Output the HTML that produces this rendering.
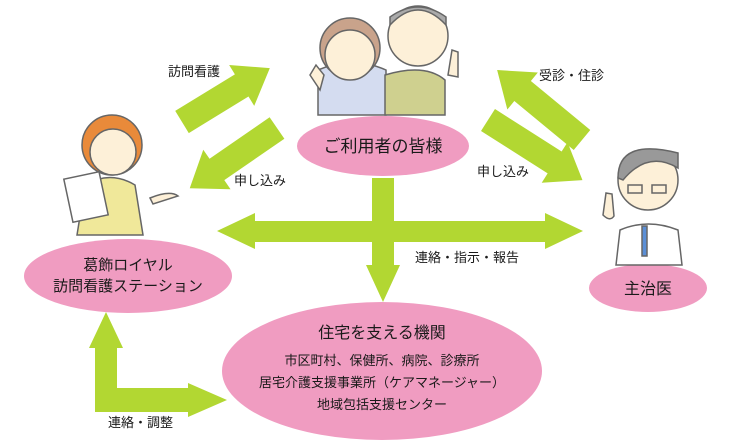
<!DOCTYPE html>
<html><head><meta charset="utf-8"><style>
html,body{margin:0;padding:0;background:#fff;width:736px;height:442px;overflow:hidden}
svg{display:block}
text{font-family:"Liberation Sans","Noto Sans CJK JP",sans-serif;fill:#1a1a1a}
</style></head><body>
<svg width="736" height="442" viewBox="0 0 736 442" xmlns="http://www.w3.org/2000/svg">
<g fill="#b2d732">
<g transform="translate(182,122) rotate(-31.5)"><polygon points="0,-13 70,-13 70,-24 103,0 70,24 70,13 0,13"/></g>
<g transform="translate(277,128) rotate(145.4)"><polygon points="0,-13 73,-13 73,-24 106,0 73,24 73,13 0,13"/></g>
<g transform="translate(582,140) rotate(219.5)"><polygon points="0,-13 77,-13 77,-24 110,0 77,24 77,13 0,13"/></g>
<g transform="translate(488,120) rotate(32.5)"><polygon points="0,-13 79,-13 79,-24 112,0 79,24 79,13 0,13"/></g>
<polygon points="217,231 255,213 255,221 545,221 545,213 583,231 545,249 545,242 255,242 255,249"/>
<polygon points="372,178 394,178 394,265 400,265 383,302 366,265 372,265"/>
<polygon points="106,312 123,348 117,348 117,388 188,388 188,383 227,400 188,417 188,412 95,412 95,348 89,348"/>
</g>
<g fill="#f09cc1">
<ellipse cx="383" cy="146" rx="86" ry="30"/>
<ellipse cx="128" cy="276" rx="104" ry="37"/>
<ellipse cx="382" cy="371" rx="160" ry="69"/>
<ellipse cx="648" cy="288" rx="59" ry="24"/>
</g>
<g stroke="#666" stroke-width="1.5">
<path d="M318,70 q35,-15 68,0 l0,45 l-68,0z" fill="#d4dcf0"/>
<circle cx="350" cy="48" r="30" fill="#c9a38b"/>
<circle cx="350" cy="55" r="25" fill="#fdf0d8"/>
<path d="M385,75 q40,-12 60,5 l0,35 l-60,0z" fill="#cfd08f"/>
<circle cx="418" cy="36" r="30" fill="#fdf0d8"/>
<path d="M390,25 q28,-30 56,0 l0,-8 q-28,-20 -56,0z" fill="#aaa"/>
<path d="M310,75 l6,-10 l8,10 l-4,15z M448,75 l4,-25 l6,2 l0,25z" fill="#fdf0d8"/>
</g>
<g stroke="#666" stroke-width="1.5">
<path d="M85,185 q25,-15 50,0 l8,50 l-66,0z" fill="#f0e89a"/>
<circle cx="112" cy="145" r="30" fill="#e98a3a"/>
<circle cx="113" cy="152" r="23" fill="#fdf0d8"/>
<rect x="68" y="175" width="36" height="44" fill="#fff" transform="rotate(-12 86 197)"/>
<path d="M150,198 q20,-8 28,-2 l-25,8z" fill="#fdf0d8"/>
</g>
<g stroke="#666" stroke-width="1.5">
<path d="M620,230 q28,-12 58,0 l4,35 l-66,0z" fill="#fff"/>
<path d="M642,226 l5,0 l0,30 l-5,0z" fill="#5b8fd6"/>
<circle cx="648" cy="180" r="30" fill="#fdf0d8"/>
<path d="M618,178 q0,-40 60,-25 l0,15 q-30,-18 -55,12z" fill="#999"/>
<path d="M628,185 h14 v8 h-14z M652,185 h14 v8 h-14z" fill="none"/>
<path d="M603,215 l3,-22 l6,1 l2,22 q-4,6 -11,-1z" fill="#fdf0d8"/>
</g>
<g font-size="13">
<text x="168" y="76">訪問看護</text>
<text x="234" y="185">申し込み</text>
<text x="539" y="80">受診・住診</text>
<text x="477" y="176">申し込み</text>
<text x="415" y="262">連絡・指示・報告</text>
<text x="108" y="427">連絡・調整</text>
</g>
<text x="383" y="152" font-size="17" text-anchor="middle">ご利用者の皆様</text>
<text x="128" y="270" font-size="15" text-anchor="middle">葛飾ロイヤル</text>
<text x="128" y="291" font-size="15" text-anchor="middle">訪問看護ステーション</text>
<text x="382" y="338" font-size="16" text-anchor="middle">住宅を支える機関</text>
<text x="382" y="365" font-size="13" text-anchor="middle">市区町村、保健所、病院、診療所</text>
<text x="382" y="387" font-size="13" text-anchor="middle">居宅介護支援事業所（ケアマネージャー）</text>
<text x="382" y="409" font-size="13" text-anchor="middle">地域包括支援センター</text>
<text x="648" y="294" font-size="16" text-anchor="middle">主治医</text>
</svg>
</body></html>
